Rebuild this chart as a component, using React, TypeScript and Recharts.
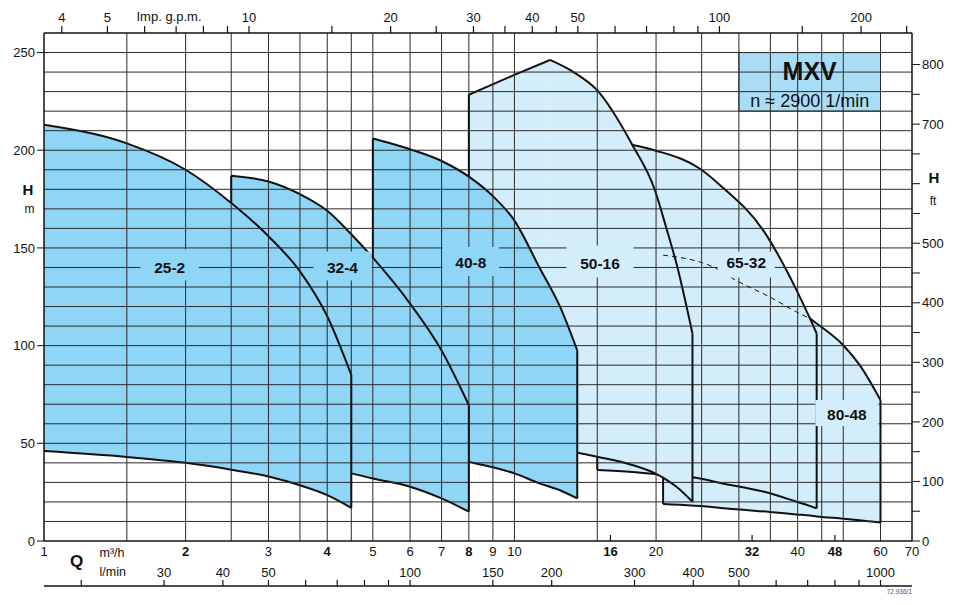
import React from "react";
import {
  ComposedChart,
  Area,
  Line,
  XAxis,
  YAxis,
  ReferenceLine,
  ReferenceArea,
  ReferenceDot,
} from "recharts";

const FONT = "'Liberation Sans', Arial, Helvetica, sans-serif";
const INK = "#111";
const GRID = "#2a2a2a";
const DARK = "#8fd5f6";
const LIGHT = "#d3eefa";
const BOX = "#a8ddf5";

const M_TO_FT = 3.28084;
const GPM_TO_Q = 0.272765; // Imp. gal/min -> m3/h
const LMIN_TO_Q = 0.06; // l/min -> m3/h
const Q_MIN = 1;
const Q_MAX = 70;
const H_MAX = 260;

// pump fields: Q in m3/h, H in m (top = hi, bottom = lo)
const q25 = [1, 1.5, 2, 2.5, 3, 3.5, 4, 4.5];
const hi25 = [213, 203.5, 190, 173, 156, 138, 115, 85];
const lo25 = [46, 43, 40, 36.5, 33, 28.5, 23.5, 17];

const q32 = [2.5, 3, 3.5, 4, 4.5, 5, 6, 7, 8];
const hi32 = [187, 184, 177.5, 169, 157, 145, 121.5, 97.5, 69.5];
const lo32 = [45, 42, 39.5, 37, 34.6, 32, 27.8, 21.8, 15];

const q40 = [5, 6, 7, 8, 9, 10, 11.3, 12.5, 13.6];
const hi40 = [206, 200.5, 194.5, 186.5, 176.5, 164, 140, 120, 97.6];
const lo40 = [48, 46, 43.5, 40.5, 37.7, 34.6, 29.5, 26, 21.8];

// 50-16: straight rise up to the peak, then a curve
const q50 = [8, 10, 11.9, 13.35, 15, 17.8, 19.9, 21.1, 22.1, 23.9];
const hi50 = [228.4, 238.6, 246.2, 240, 230.6, 202.8, 179.4, 159, 142, 106.2];
const lo50 = [52, 50, 47.5, 45.5, 43.1, 38.9, 34.6, 31.2, 27.8, 20.1];
const peak50 = 2;

const q65 = [15, 17.8, 19.9, 24.8, 27.4, 33.8, 39.8, 42.5, 43.9];
const hi65 = [207, 202.8, 199.9, 190.5, 182, 159, 128.3, 113.8, 106.2];
const lo65 = [36.3, 35.3, 34.3, 32, 29.7, 25.3, 20.1, 17.9, 16.7];

const q80 = [20.7, 26.9, 29.6, 34.9, 39.8, 42.5, 43.9, 50, 54.2, 60];
const hi80 = [146.3, 139.4, 133.4, 124.9, 117.2, 113.8, 111.3, 100.2, 90, 72.1];
const lo80 = [18.9, 17.2, 16.2, 14.9, 13.6, 13, 12.6, 11.4, 10.6, 9.4];
const lo80Covered = 32.8; // where 50-16 / 65-32 start covering the 80-48 left edge

// where 80-48 runs hidden under 65-32 it is shown dashed
const dashedCount = 6;

const names = ["25-2", "32-4", "40-8", "50-16", "65-32", "80-48"];
const labelQ = [1.85, 4.31, 8.08, 15.2, 31.1, 50.9];
const labelH = [140, 140, 142.3, 142, 142.5, 65];

// grid and axes
const hGrid = [10, 20, 30, 40, 50, 60, 70, 80, 90, 100, 110, 120, 130, 140, 150, 160, 170, 180, 190, 200, 210, 220, 230, 240, 250];
const qGrid = [1.5, 2, 2.5, 3, 3.5, 4, 4.5, 5, 6, 7, 8, 9, 10, 15, 20, 25, 30, 35, 40, 45, 50, 60];
const qTicks = [1, 2, 3, 4, 5, 6, 7, 8, 9, 10, 16, 20, 32, 40, 48, 60, 70];
const qBold = [2, 4, 8, 16, 32, 48];
const qMarked = [16, 32, 48];
const gpmTicks = [4, 5, 6, 7, 8, 9, 10, 15, 20, 25, 30, 35, 40, 45, 50, 60, 70, 80, 90, 100, 150, 200, 250];
const gpmLabels = [4, 5, 10, 20, 30, 40, 50, 100, 200];
const lminTicks = [20, 30, 40, 50, 60, 70, 80, 90, 100, 150, 200, 300, 400, 500, 600, 700, 800, 900, 1000];
const lminLabels = [30, 40, 50, 100, 150, 200, 300, 400, 500, 1000];
const mTicks = [0, 50, 100, 150, 200, 250];
const ftTicks = [0, 50, 100, 150, 200, 250, 300, 350, 400, 450, 500, 550, 600, 650, 700, 750, 800];
const ftLabels = [0, 100, 200, 300, 400, 500, 700, 800];

const band = (q: number[], hi: number[], lo: number[]) =>
  q.map((v, i) => ({ q: v, h: [lo[i], hi[i]] }));

const last = (a: number[]) => a[a.length - 1];
const hAt = (q: number[], h: number[], v: number) => h[q.indexOf(v)];

// drawn back to front
const fields = [
  { id: "80-48", data: band(q80, hi80, lo80), fill: LIGHT, type: "monotone" },
  { id: "65-32", data: band(q65, hi65, lo65), fill: LIGHT, type: "monotone" },
  {
    id: "50-16a",
    data: band(q50.slice(0, peak50 + 1), hi50.slice(0, peak50 + 1), lo50.slice(0, peak50 + 1)),
    fill: LIGHT,
    type: "linear",
  },
  {
    id: "50-16b",
    data: band(q50.slice(peak50), hi50.slice(peak50), lo50.slice(peak50)),
    fill: LIGHT,
    type: "monotone",
  },
  { id: "40-8", data: band(q40, hi40, lo40), fill: DARK, type: "monotone" },
  { id: "32-4", data: band(q32, hi32, lo32), fill: DARK, type: "monotone" },
  { id: "25-2", data: band(q25, hi25, lo25), fill: DARK, type: "monotone" },
];
const labelFill = [DARK, DARK, DARK, LIGHT, LIGHT, LIGHT];
// label patch: extra width, top and bottom offsets from the text centre
const labelPad = [
  [24, 18, 13],
  [24, 16, 13],
  [22, 16, 13],
  [24, 18, 14],
  [14, 11, 15],
  [20, 14, 12],
];

// visible parts of the vertical edges
const seg = (q: number, a: number, b: number) => [
  { q, h: a },
  { q, h: b },
];
const edges = [
  seg(last(q25), last(hi25), last(lo25)),
  seg(q32[0], hi32[0], hAt(q25, hi25, q32[0])),
  seg(last(q32), last(hi32), last(lo32)),
  seg(q40[0], hi40[0], hAt(q32, hi32, q40[0])),
  seg(last(q40), last(hi40), last(lo40)),
  seg(q50[0], hi50[0], hAt(q40, hi40, q50[0])),
  seg(last(q50), last(hi50), last(lo50)),
  seg(q65[0], lo65[0], hAt(q50, lo50, q65[0])),
  seg(last(q65), last(hi65), last(lo65)),
  seg(q80[0], lo80[0], lo80Covered),
  seg(last(q80), last(hi80), last(lo80)),
];
const dashed = q80.slice(0, dashedCount).map((q, i) => ({ q, h: hi80[i] }));
// keeps the secondary Q axes fed with data
const span = [
  { q: Q_MIN, h: 0 },
  { q: Q_MAX, h: 0 },
];

const QTick = (p: any) => {
  const v = p.payload.value;
  return (
    <g>
      {qMarked.includes(v) && (
        <line x1={p.x} x2={p.x} y1={p.y} y2={p.y - 6} stroke={INK} strokeWidth={1.2} />
      )}
      <text
        x={p.x}
        y={p.y + 15}
        textAnchor="middle"
        fontSize={13}
        fontWeight={qBold.includes(v) ? 700 : 400}
        fontFamily={FONT}
        fill={INK}
      >
        {v}
      </text>
    </g>
  );
};

const LminTick = (p: any) => {
  const l = Math.round(p.payload.value / LMIN_TO_Q);
  return (
    <g>
      <line x1={p.x} x2={p.x} y1={p.y} y2={p.y - 6} stroke={INK} strokeWidth={1.2} />
      {lminLabels.includes(l) && (
        <text x={p.x} y={p.y - 9} textAnchor="middle" fontSize={13} fontFamily={FONT} fill={INK}>
          {l}
        </text>
      )}
    </g>
  );
};

const GpmTick = (p: any) => {
  const g = Math.round(p.payload.value / GPM_TO_Q);
  return (
    <g>
      <line x1={p.x} x2={p.x} y1={p.y} y2={p.y - 7} stroke={INK} strokeWidth={1.2} />
      {gpmLabels.includes(g) && (
        <text x={p.x} y={p.y - 11} textAnchor="middle" fontSize={13} fontFamily={FONT} fill={INK}>
          {g}
        </text>
      )}
    </g>
  );
};

const pumpLabel = (i: number) => (p: any) => {
  const text = names[i];
  const [padW, up, down] = labelPad[i];
  const w = text.length * 8.6 + padW;
  return (
    <g>
      <rect x={p.cx - w / 2} y={p.cy - up} width={w} height={up + down} fill={labelFill[i]} />
      <text
        x={p.cx}
        y={p.cy + 5.5}
        textAnchor="middle"
        fontSize={15.5}
        fontWeight={700}
        fontFamily={FONT}
        fill={INK}
      >
        {text}
      </text>
    </g>
  );
};

const boxText = (p: any) => (
  <g fontFamily={FONT} fill={INK} textAnchor="middle">
    <text x={p.cx} y={p.cy - 1.5} fontSize={25} fontWeight={700}>
      MXV
    </text>
    <text x={p.cx} y={p.cy + 25} fontSize={18}>
      n ≈ 2900 1/min
    </text>
  </g>
);

const axisLine = { stroke: INK, strokeWidth: 1.5 };
const tickStyle = { fontSize: 13, fill: INK, fontFamily: FONT };

export default function App() {
  return (
    <div
      style={{
        position: "absolute",
        left: 0,
        top: 0,
        width: 960,
        height: 605,
        background: "#fff",
        fontFamily: FONT,
      }}
    >
      <ComposedChart width={960} height={605} margin={{ top: 0, right: 0, bottom: 0, left: 0 }}>
        <Line xAxisId="x2" yAxisId="m" data={span} dataKey="h" stroke="none" dot={false} activeDot={false} isAnimationActive={false} />
        <Line xAxisId="x3" yAxisId="m" data={span} dataKey="h" stroke="none" dot={false} activeDot={false} isAnimationActive={false} />

        {fields.map((f) => (
          <Area
            key={f.id}
            xAxisId="x1"
            yAxisId="m"
            data={f.data}
            dataKey="h"
            type={f.type as any}
            fill={f.fill}
            fillOpacity={1}
            stroke={INK}
            strokeWidth={2}
            dot={false}
            activeDot={false}
            isAnimationActive={false}
          />
        ))}

        {hGrid.map((h) => (
          <ReferenceLine key={"h" + h} xAxisId="x1" yAxisId="m" y={h} stroke={GRID} strokeWidth={1} />
        ))}
        {qGrid.map((q) => (
          <ReferenceLine key={"q" + q} xAxisId="x1" yAxisId="m" x={q} stroke={GRID} strokeWidth={1} />
        ))}

        {edges.map((e, i) => (
          <Line
            key={"e" + i}
            xAxisId="x1"
            yAxisId="m"
            data={e}
            dataKey="h"
            type="linear"
            stroke={INK}
            strokeWidth={2}
            dot={false}
            activeDot={false}
            isAnimationActive={false}
          />
        ))}
        <Line
          xAxisId="x1"
          yAxisId="m"
          data={dashed}
          dataKey="h"
          type="monotone"
          stroke={INK}
          strokeWidth={1}
          strokeDasharray="5 4"
          dot={false}
          activeDot={false}
          isAnimationActive={false}
        />

        <ReferenceArea
          xAxisId="x1"
          yAxisId="m"
          x1={30}
          x2={60}
          y1={220}
          y2={250}
          fill={BOX}
          fillOpacity={1}
          stroke="#333"
          strokeWidth={1}
        />
        <ReferenceDot xAxisId="x1" yAxisId="m" x={42.43} y={235} r={0} shape={boxText} />

        {names.map((n, i) => (
          <ReferenceDot
            key={n}
            xAxisId="x1"
            yAxisId="m"
            x={labelQ[i]}
            y={labelH[i]}
            r={0}
            shape={pumpLabel(i)}
          />
        ))}

        <XAxis
          xAxisId="x1"
          dataKey="q"
          type="number"
          scale="log"
          domain={[Q_MIN, Q_MAX]}
          allowDataOverflow
          ticks={qTicks}
          interval={0}
          height={45}
          tickSize={0}
          tickMargin={0}
          tickLine={false}
          axisLine={axisLine}
          tick={QTick}
        />
        <XAxis
          xAxisId="x2"
          dataKey="q"
          type="number"
          scale="log"
          domain={[Q_MIN, Q_MAX]}
          allowDataOverflow
          ticks={lminTicks.map((l) => l * LMIN_TO_Q)}
          interval={0}
          height={19}
          tickSize={0}
          tickMargin={0}
          tickLine={false}
          axisLine={axisLine}
          tick={LminTick}
        />
        <XAxis
          xAxisId="x3"
          dataKey="q"
          orientation="top"
          type="number"
          scale="log"
          domain={[Q_MIN, Q_MAX]}
          allowDataOverflow
          ticks={gpmTicks.map((g) => g * GPM_TO_Q)}
          interval={0}
          height={33}
          tickSize={0}
          tickMargin={0}
          tickLine={false}
          axisLine={axisLine}
          tick={GpmTick}
        />
        <YAxis
          yAxisId="m"
          type="number"
          domain={[0, H_MAX]}
          allowDataOverflow
          ticks={mTicks}
          interval={0}
          width={44}
          tickSize={7}
          tickMargin={2}
          tickLine={{ stroke: INK }}
          axisLine={axisLine}
          tick={tickStyle}
        />
        <YAxis
          yAxisId="ft"
          orientation="right"
          type="number"
          domain={[0, H_MAX * M_TO_FT]}
          allowDataOverflow
          ticks={ftTicks}
          interval={0}
          width={48}
          tickSize={8}
          tickMargin={2}
          tickLine={{ stroke: INK }}
          axisLine={axisLine}
          tick={tickStyle}
          tickFormatter={(v: number) => (ftLabels.includes(v) ? String(v) : "")}
        />
      </ComposedChart>

      <svg
        width={960}
        height={605}
        style={{ position: "absolute", left: 0, top: 0, pointerEvents: "none" }}
        fontFamily={FONT}
        fill={INK}
      >
        <text x={169} y={20.5} fontSize={13} textAnchor="middle">
          Imp. g.p.m.
        </text>
        <text x={28} y={195} fontSize={15} fontWeight={700} textAnchor="middle">
          H
        </text>
        <text x={29.5} y={212.5} fontSize={12} textAnchor="middle">
          m
        </text>
        <text x={934} y={183} fontSize={15} fontWeight={700} textAnchor="middle">
          H
        </text>
        <text x={933} y={205} fontSize={12} textAnchor="middle">
          ft
        </text>
        <text x={76.7} y={567} fontSize={17} fontWeight={700} textAnchor="middle">
          Q
        </text>
        <text x={99.5} y={557} fontSize={12.5}>
          m³/h
        </text>
        <text x={99.5} y={575.5} fontSize={12.5}>
          l/min
        </text>
        <text x={912} y={594} fontSize={6.5} textAnchor="end" fill="#555">
          72.936/1
        </text>
      </svg>
    </div>
  );
}
